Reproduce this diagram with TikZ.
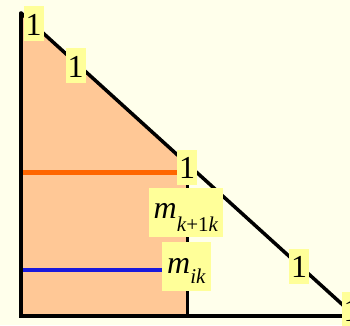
\documentclass[tikz,border=0pt]{standalone}
\usepackage{fontspec}
\setmainfont{Liberation Serif}
\definecolor{bgcol}{RGB}{255,255,235}
\definecolor{labelyellow}{RGB}{255,255,153}
\definecolor{peach}{RGB}{255,200,150}
\definecolor{orangeline}{RGB}{255,102,0}
\definecolor{blueline}{RGB}{25,25,220}
\pgfdeclarelayer{background}
\pgfsetlayers{background,main}
\begin{document}
\begin{tikzpicture}[x=1pt,y=-1pt,
  onelab/.style={fill=labelyellow, inner sep=0pt, text height=29pt, text depth=6pt,
    minimum width=20pt, font=\fontsize{32}{32}\selectfont},
  mlab/.style={fill=labelyellow, inner sep=0pt, font=\fontsize{32}{32}\selectfont},
  blackline/.style={line width=3.5pt, line cap=round, draw=black},
  colline/.style={line width=4.5pt}]
\useasboundingbox (0,0) rectangle (350,325);
\clip (0,0) rectangle (350,325);
\coordinate (A) at (21,13);
\coordinate (B) at (187.5,164);
\coordinate (C) at (187.5,316);
\coordinate (D) at (21,316);
\coordinate (E) at (355,316);
\coordinate (O1) at (21,172.5);
\coordinate (B1) at (21,270);
% labels
\node[onelab] (t1) at (33.5,23.5) {1};
\node[onelab] (t2) at (75.5,65.5) {1};
\node[onelab] (t3) at (187,167) {1};
\node[mlab, text height=30pt, text depth=19pt, minimum width=74pt] (mk) at (186,212.5)
  {\textit{m}\raisebox{-13pt}{\fontsize{21}{21}\selectfont\textit{k}+1\textit{k}}};
\node[mlab, text height=31pt, text depth=18pt, minimum width=49pt] (mi) at (186.5,266.5)
  {\textit{m}\raisebox{-10pt}{\fontsize{21}{21}\selectfont\textit{ik}}};
\node[onelab] (t4) at (299,266) {1};
\node[onelab] (t5) at (351.5,309.5) {1};
\begin{pgfonlayer}{background}
\fill[bgcol] (0,0) rectangle (350,325);
\fill[peach] (A) -- (B) -- (C) -- (D) -- cycle;
\draw[colline, orangeline] (O1) -- (O1 -| t3.west);
\draw[colline, blueline] (B1) -- (B1 -| mi.west);
\draw[blackline] (A) -- (E);
\draw[blackline] (A) -- (D) -- (E);
\draw[blackline] (B) -- (C);
\end{pgfonlayer}
\end{tikzpicture}
\end{document}
